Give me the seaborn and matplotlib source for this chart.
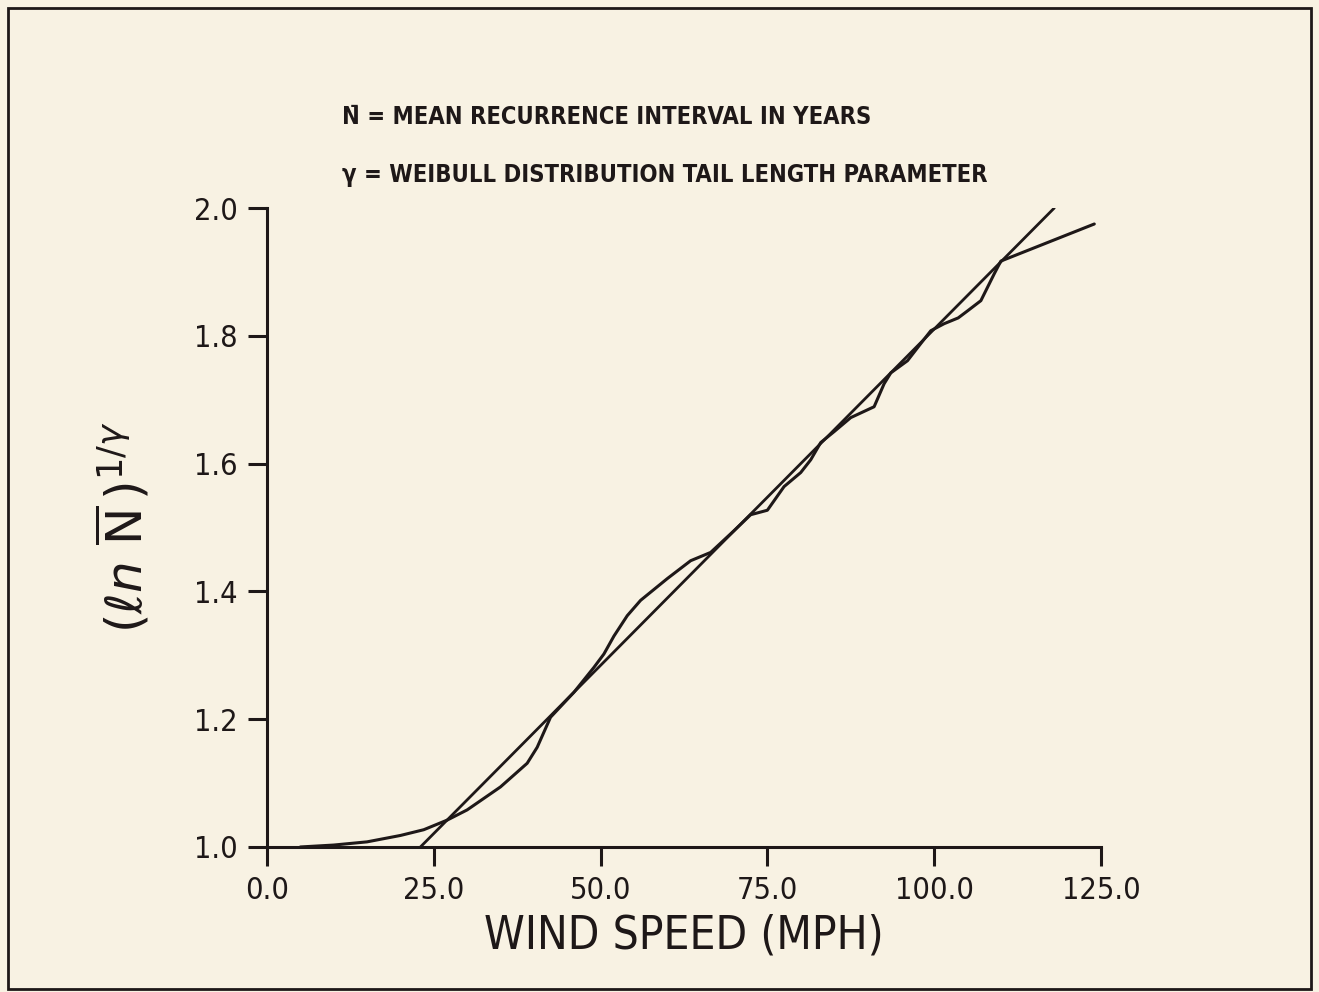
import numpy as np
import pandas as pd
import seaborn as sns
import matplotlib.pyplot as plt
from matplotlib.patches import Rectangle

# fitted straight line (end points)
fit_speed = [23.0, 118.0]
fit_value = [1.0, 2.0]

# observed curve, traced by eye
obs_speed = [5.0, 10.0, 15.0, 20.0, 23.5, 27.0, 30.0, 35.0, 39.0, 40.5, 42.5, 46.0,
             49.0, 50.5, 52.0, 54.0, 56.0, 60.0, 63.5, 66.5, 70.0, 72.5, 75.0, 77.5, 80.0,
             81.5, 83.0, 85.0, 87.5, 91.0, 92.5, 93.5, 96.0, 98.0, 99.5, 101.5,
             103.6, 105.0, 107.0, 109.0, 110.0, 124.0]
obs_value = [1.000, 1.003, 1.008, 1.018, 1.027, 1.042, 1.058, 1.094, 1.131, 1.156, 1.203, 1.242,
             1.281, 1.302, 1.330, 1.362, 1.386, 1.420, 1.448, 1.461, 1.495, 1.520, 1.527, 1.564, 1.586,
             1.606, 1.633, 1.650, 1.672, 1.689, 1.725, 1.742, 1.761, 1.788, 1.808, 1.819,
             1.828, 1.839, 1.855, 1.897, 1.917, 1.975]

x_ticks = [0, 25, 50, 75, 100, 125]
y_ticks = [1.0, 1.2, 1.4, 1.6, 1.8, 2.0]

paper = "#f8f2e3"
ink = "#1e1818"

sns.set_style("ticks")
plt.rcParams["font.family"] = ["DejaVu Sans"]
plt.rcParams["axes.facecolor"] = paper
plt.rcParams["figure.facecolor"] = paper

fig = plt.figure(figsize=(13.19, 9.92), dpi=100)
ax = fig.add_axes([0.2024, 0.1462, 0.6323, 0.6441])

fit_df = pd.DataFrame({"speed": fit_speed, "value": fit_value})
obs_df = pd.DataFrame({"speed": obs_speed, "value": obs_value})
sns.lineplot(data=fit_df, x="speed", y="value", ax=ax, color=ink, lw=2.0)
sns.lineplot(data=obs_df, x="speed", y="value", ax=ax, color=ink, lw=2.2)

ax.set_xlim(0, 125)
ax.set_ylim(1.0, 2.0)
ax.set_xticks(x_ticks)
ax.set_xticklabels([f"{t:.1f}" for t in x_ticks])
ax.set_yticks(y_ticks)
ax.set_yticklabels([f"{t:.1f}" for t in y_ticks])
sns.despine(ax=ax)
for s in ["left", "bottom"]:
    ax.spines[s].set_linewidth(2.2)
    ax.spines[s].set_color(ink)
ax.tick_params(length=14, width=2.2, color=ink, labelcolor=ink, labelsize=22, pad=7)
for lab in ax.get_xticklabels() + ax.get_yticklabels():
    lab.set_fontstretch("condensed")

ax.set_xlabel("WIND SPEED (MPH)", fontsize=33, color=ink, labelpad=6, fontstretch="condensed")
ax.set_ylabel(r"$(\ell n\ \overline{\mathrm{N}}\,)^{1/\gamma}$", fontsize=36, color=ink, labelpad=30)

fig.text(0.259, 0.882, "N\u0304 = MEAN RECURRENCE INTERVAL IN YEARS", fontsize=17,
         fontweight="bold", color=ink, va="center", fontstretch="condensed")
fig.text(0.259, 0.824, "\u03b3 = WEIBULL DISTRIBUTION TAIL LENGTH PARAMETER", fontsize=17,
         fontweight="bold", color=ink, va="center", fontstretch="condensed")

# scanned page frame
fig.patches.append(Rectangle((0.006, 0.003), 0.988, 0.989, transform=fig.transFigure,
                             fill=False, edgecolor=ink, lw=2.0))

fig.savefig("out.png", dpi=100, facecolor=paper)
